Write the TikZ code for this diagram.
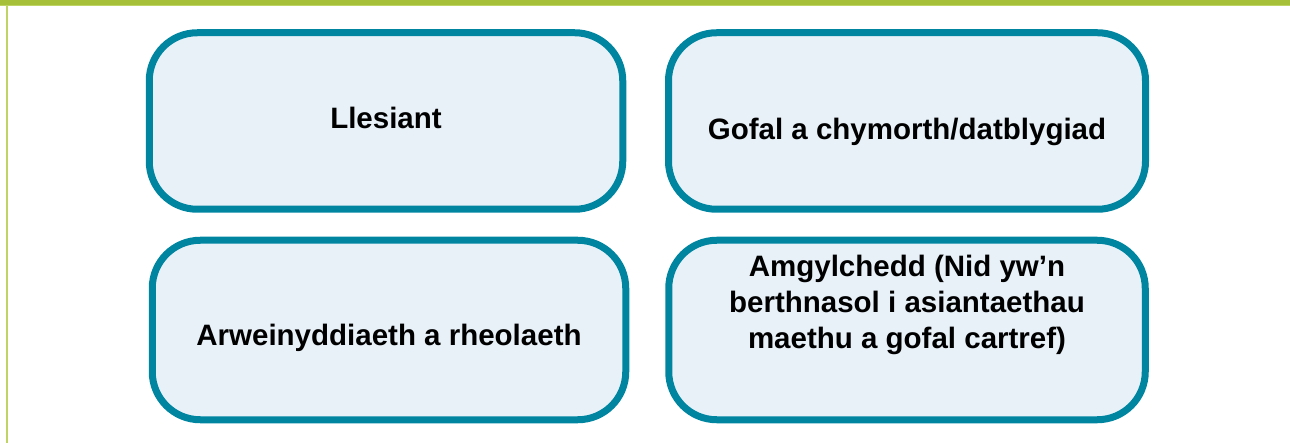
\documentclass[tikz,border=0pt]{standalone}
\usepackage{fontspec}
\setmainfont{Liberation Sans}
\usepackage{tikz}
\definecolor{leafgreen}{RGB}{166,192,58}
\definecolor{palegreen}{RGB}{190,212,100}
\definecolor{tealblue}{RGB}{0,133,161}
\definecolor{iceblue}{RGB}{232,241,248}

\begin{document}
\begin{tikzpicture}[x=1pt, y=-1pt,
        tbox/.style={draw=tealblue, fill=iceblue, line width=7pt, rounded corners=48pt, inner sep=0pt},
        lbl/.style={align=center, inner sep=0pt, font=\fontsize{29.5}{36}\selectfont\bfseries}
    ]
    \useasboundingbox (0,0) rectangle (1290,443);
    % frame
    \fill[leafgreen] (0,0) rectangle (1290,5);
    \fill[palegreen] (0,5) rectangle (1290,6.5);
    \fill[palegreen] (6,6.5) rectangle (8,443);
    % boxes
    \node[tbox, minimum width=473.5pt, minimum height=176.5pt] (llesiant) at (386,121) {};
    \node[tbox, minimum width=477pt, minimum height=176.5pt] (gofal) at (907,121) {};
    \node[tbox, minimum width=473.5pt, minimum height=179.5pt] (arwein) at (389,330) {};
    \node[tbox, minimum width=476.5pt, minimum height=179.5pt] (amgyl) at (907,330) {};
    % texts
    \node[lbl, anchor=base] (llesianttxt) at ([yshift=-8pt]llesiant.center) {Llesiant};
    \node[lbl, anchor=base] (gofaltxt) at ([yshift=-19pt]gofal.center) {Gofal a chymorth/datblygiad};
    \node[lbl, anchor=base] (arweintxt) at ([yshift=-15pt]arwein.center) {Arweinyddiaeth a rheolaeth};
    \node[lbl] (amgyltxt) at ([yshift=25pt]amgyl.center) {Amgylchedd (Nid yw’n\\berthnasol i asiantaethau\\maethu a gofal cartref)};
\end{tikzpicture}
\end{document}
